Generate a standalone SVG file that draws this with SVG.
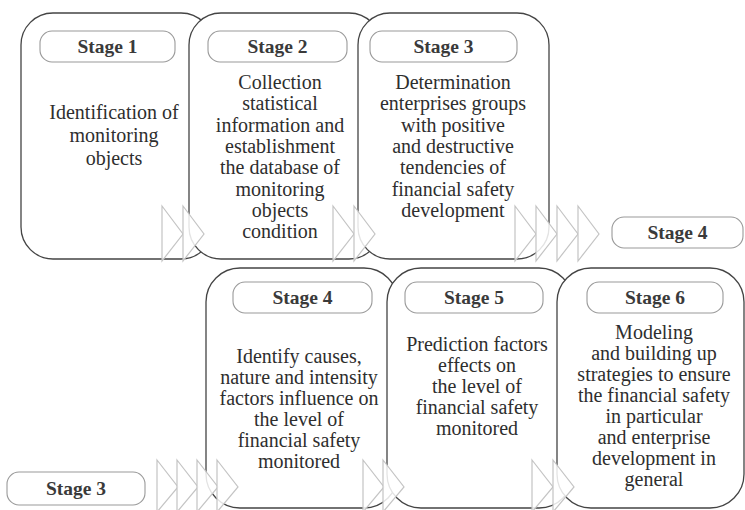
<svg xmlns="http://www.w3.org/2000/svg" width="745" height="510" viewBox="0 0 745 510">
<style>
.box{fill:#fff;stroke:#444;stroke-width:1.3}
.pill{fill:#fff;stroke:#9a9a9a;stroke-width:1.1}
text{font-family:'Liberation Serif','DejaVu Serif','Times New Roman',Times,serif;text-anchor:middle}
.lbl{font-size:19.5px;font-weight:bold;fill:#3a3a3a}
.txt{font-size:20px;fill:#2e2e2e}
.chev{fill:#fff;fill-opacity:0.85;stroke:#c4c4c4;stroke-width:1.2}
</style>
<rect width="745" height="510" fill="#fff"/>
<g id="stage1">
<rect class="box" x="21" y="13" width="192" height="246" rx="32"/>
<rect class="pill" x="40" y="31" width="135" height="31" rx="12"/>
<text class="lbl" x="107.5" y="53">Stage 1</text>
<text class="txt" x="114" y="119">Identification of</text>
<text class="txt" x="114" y="142">monitoring</text>
<text class="txt" x="114" y="165">objects</text>
</g>
<g id="stage2">
<rect class="box" x="189" y="13" width="192" height="246" rx="32"/>
<rect class="pill" x="208" y="31" width="139" height="31" rx="12"/>
<text class="lbl" x="277.5" y="53">Stage 2</text>
<text class="txt" x="280" y="89">Collection</text>
<text class="txt" x="280" y="110">statistical</text>
<text class="txt" x="280" y="132">information and</text>
<text class="txt" x="280" y="153">establishment</text>
<text class="txt" x="280" y="174">the database of</text>
<text class="txt" x="280" y="196">monitoring</text>
<text class="txt" x="280" y="217">objects</text>
<text class="txt" x="280" y="238">condition</text>
</g>
<g id="stage3">
<rect class="box" x="358" y="13" width="191" height="246" rx="32"/>
<rect class="pill" x="370" y="31" width="147" height="31" rx="12"/>
<text class="lbl" x="443.5" y="53">Stage 3</text>
<text class="txt" x="453" y="89">Determination</text>
<text class="txt" x="453" y="110">enterprises groups</text>
<text class="txt" x="453" y="132">with positive</text>
<text class="txt" x="453" y="153">and destructive</text>
<text class="txt" x="453" y="174">tendencies of</text>
<text class="txt" x="453" y="196">financial safety</text>
<text class="txt" x="453" y="217">development</text>
</g>
<g id="stage4-ref">
<rect class="pill" x="612" y="217" width="131" height="31" rx="12"/>
<text class="lbl" x="677.5" y="239">Stage 4</text>
</g>
<g id="stage4">
<rect class="box" x="206" y="268" width="192" height="240" rx="34"/>
<rect class="pill" x="233" y="282" width="139" height="31" rx="12"/>
<text class="lbl" x="302.5" y="304">Stage 4</text>
<text class="txt" x="299" y="363">Identify causes,</text>
<text class="txt" x="299" y="384">nature and intensity</text>
<text class="txt" x="299" y="405">factors influence on</text>
<text class="txt" x="299" y="426">the level of</text>
<text class="txt" x="299" y="447">financial safety</text>
<text class="txt" x="299" y="468">monitored</text>
</g>
<g id="stage5">
<rect class="box" x="387" y="268" width="186" height="240" rx="34"/>
<rect class="pill" x="405" y="282" width="138" height="31" rx="12"/>
<text class="lbl" x="474" y="304">Stage 5</text>
<text class="txt" x="477" y="351">Prediction factors</text>
<text class="txt" x="477" y="372">effects on</text>
<text class="txt" x="477" y="393">the level of</text>
<text class="txt" x="477" y="414">financial safety</text>
<text class="txt" x="477" y="435">monitored</text>
</g>
<g id="stage6">
<rect class="box" x="557" y="268" width="187" height="240" rx="34"/>
<rect class="pill" x="587" y="282" width="136" height="31" rx="12"/>
<text class="lbl" x="655" y="304">Stage 6</text>
<text class="txt" x="654" y="339">Modeling</text>
<text class="txt" x="654" y="360">and building up</text>
<text class="txt" x="654" y="381">strategies to ensure</text>
<text class="txt" x="654" y="402">the financial safety</text>
<text class="txt" x="654" y="423">in particular</text>
<text class="txt" x="654" y="444">and enterprise</text>
<text class="txt" x="654" y="465">development in</text>
<text class="txt" x="654" y="486">general</text>
</g>
<g id="stage3-ref">
<rect class="pill" x="7" y="472" width="138" height="33" rx="12"/>
<text class="lbl" x="76" y="495">Stage 3</text>
</g>
<g id="connectors">
<path class="chev" d="M162,206 L183,234 L162,261 Z"/>
<path class="chev" d="M183,206 L204,234 L183,261 Z"/>
<path class="chev" d="M333,206 L354,234 L333,261 Z"/>
<path class="chev" d="M354,206 L375,234 L354,261 Z"/>
<path class="chev" d="M515,206 L536,234 L515,261 Z"/>
<path class="chev" d="M536,206 L557,234 L536,261 Z"/>
<path class="chev" d="M557,206 L578,234 L557,261 Z"/>
<path class="chev" d="M578,206 L599,234 L578,261 Z"/>
<path class="chev" d="M157,460 L178,487 L157,512 Z"/>
<path class="chev" d="M177,460 L198,487 L177,512 Z"/>
<path class="chev" d="M197,460 L218,487 L197,512 Z"/>
<path class="chev" d="M217,460 L238,487 L217,512 Z"/>
<path class="chev" d="M363,460 L384,487 L363,512 Z"/>
<path class="chev" d="M383,460 L404,487 L383,512 Z"/>
<path class="chev" d="M532,460 L553,487 L532,512 Z"/>
<path class="chev" d="M553,460 L574,487 L553,512 Z"/>
</g>
</svg>
